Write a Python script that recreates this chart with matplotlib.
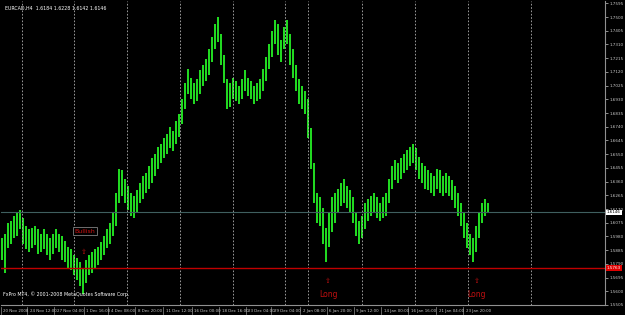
import matplotlib
matplotlib.use("Agg")
import numpy as np
from matplotlib import pyplot as plt
from matplotlib import transforms

# EURCAD H4 bars (high / low), one entry per bar
highs = [
    1.597, 1.600, 1.607, 1.609, 1.612, 1.614, 1.616, 1.611, 1.605, 1.603,
    1.604, 1.605, 1.603, 1.600, 1.603, 1.600, 1.597, 1.600, 1.603, 1.600,
    1.598, 1.595, 1.591, 1.589, 1.585, 1.583, 1.580, 1.576, 1.582, 1.585,
    1.587, 1.589, 1.591, 1.594, 1.598, 1.603, 1.607, 1.614, 1.628, 1.645,
    1.644, 1.638, 1.633, 1.628, 1.626, 1.630, 1.635, 1.640, 1.642, 1.647,
    1.652, 1.655, 1.660, 1.662, 1.666, 1.669, 1.674, 1.671, 1.678, 1.683,
    1.693, 1.704, 1.714, 1.708, 1.704, 1.707, 1.713, 1.717, 1.721, 1.728,
    1.736, 1.745, 1.750, 1.738, 1.724, 1.707, 1.704, 1.708, 1.706, 1.702,
    1.707, 1.713, 1.708, 1.706, 1.702, 1.704, 1.707, 1.714, 1.722, 1.731,
    1.740, 1.748, 1.745, 1.734, 1.743, 1.748, 1.738, 1.728, 1.717, 1.707,
    1.702, 1.699, 1.693, 1.673, 1.649, 1.628, 1.625, 1.618, 1.604, 1.614,
    1.625, 1.628, 1.631, 1.635, 1.638, 1.633, 1.630, 1.625, 1.614, 1.609,
    1.612, 1.621, 1.624, 1.626, 1.628, 1.625, 1.621, 1.625, 1.628, 1.638,
    1.647, 1.651, 1.649, 1.652, 1.655, 1.658, 1.660, 1.662, 1.659, 1.653,
    1.649, 1.647, 1.644, 1.642, 1.640, 1.645, 1.644, 1.640, 1.642, 1.640,
    1.637, 1.633, 1.628, 1.621, 1.614, 1.607, 1.600, 1.597, 1.605, 1.614,
    1.621, 1.624, 1.621,
]
lows = [
    1.582, 1.573, 1.590, 1.593, 1.597, 1.598, 1.603, 1.593, 1.589, 1.587,
    1.590, 1.592, 1.586, 1.587, 1.589, 1.585, 1.582, 1.586, 1.590, 1.587,
    1.582, 1.580, 1.576, 1.575, 1.571, 1.568, 1.564, 1.558, 1.566, 1.571,
    1.573, 1.576, 1.578, 1.582, 1.585, 1.590, 1.593, 1.598, 1.605, 1.621,
    1.626, 1.621, 1.616, 1.612, 1.611, 1.614, 1.621, 1.624, 1.628, 1.631,
    1.635, 1.640, 1.645, 1.649, 1.652, 1.655, 1.659, 1.657, 1.662, 1.667,
    1.676, 1.686, 1.697, 1.693, 1.690, 1.692, 1.697, 1.702, 1.706, 1.710,
    1.719, 1.728, 1.733, 1.717, 1.704, 1.686, 1.688, 1.693, 1.692, 1.690,
    1.693, 1.699, 1.695, 1.693, 1.690, 1.692, 1.693, 1.699, 1.706, 1.714,
    1.722, 1.731, 1.724, 1.719, 1.728, 1.731, 1.717, 1.708, 1.699, 1.690,
    1.686, 1.683, 1.666, 1.645, 1.621, 1.607, 1.605, 1.593, 1.580, 1.591,
    1.601, 1.607, 1.614, 1.619, 1.621, 1.618, 1.614, 1.607, 1.598, 1.593,
    1.597, 1.603, 1.609, 1.612, 1.614, 1.611, 1.609, 1.611, 1.612, 1.621,
    1.631, 1.637, 1.635, 1.638, 1.642, 1.644, 1.647, 1.649, 1.644, 1.638,
    1.635, 1.631, 1.630, 1.628, 1.626, 1.631, 1.628, 1.626, 1.628, 1.626,
    1.623, 1.618, 1.612, 1.605, 1.597, 1.590, 1.585, 1.580, 1.587, 1.597,
    1.607, 1.612, 1.614,
]

price_ticks = [1.7595, 1.7500, 1.7405, 1.7310, 1.7215, 1.7120, 1.7025, 1.6930,
               1.6835, 1.6740, 1.6645, 1.6550, 1.6455, 1.6360, 1.6265, 1.6170,
               1.6075, 1.5980, 1.5885, 1.5790, 1.5695, 1.5600, 1.5505]

time_pos = [0, 9, 18, 27.7, 36, 45, 54.3, 63.7, 73, 81.7, 90.3, 100,
            108.7, 117.7, 127, 136, 145.3, 154.3]
time_labels = ["20 Nov 2008", "24 Nov 12:00", "27 Nov 04:00", "1 Dec 16:00",
               "4 Dec 08:00", "8 Dec 20:00", "11 Dec 12:00", "16 Dec 00:00",
               "18 Dec 16:00", "23 Dec 04:00", "29 Dec 04:00", "2 Jan 08:00",
               "6 Jan 20:00", "9 Jan 12:00", "14 Jan 00:00", "16 Jan 16:00",
               "21 Jan 04:00", "23 Jan 20:00"]

# weekly separators (bar index)
week_lines = [6.7, 24, 41.7, 59.3, 77, 94.3, 102, 120, 137.7, 155.3, 176.3]

bid = 1.6146
support = 1.5763
long_bars = [108.7, 158.3]

fig = plt.figure(figsize=(6.25, 3.15), dpi=100, facecolor="black")
ax = fig.add_axes([1 / 625, 10 / 315, 604 / 625, 304 / 315])
ax.set_facecolor("black")

x = np.arange(len(highs))
ax.vlines(x, lows, highs, color="#22e022", lw=1.4)

for w in week_lines:
    ax.axvline(w, color="#b0b0b0", lw=0.6, ls=(0, (2, 2)))

ax.axhline(bid, color="#3f5f5f", lw=0.8)
ax.axhline(support, color="#c00000", lw=1.0)

ax.set_xlim(-1 / 3, 201)
ax.set_ylim(1.5523, 1.7611)

# price scale on the right
ax.yaxis.tick_right()
ax.set_yticks(price_ticks)
ax.set_yticklabels(["%.4f" % p for p in price_ticks])
ax.tick_params(axis="y", colors="#c8c8c8", labelsize=3.0, length=2, width=0.5, pad=1)
ax.set_xticks([])
for s in ["top", "left"]:
    ax.spines[s].set_visible(False)
for s in ["right", "bottom"]:
    ax.spines[s].set_color("#909090")
    ax.spines[s].set_linewidth(0.8)

# time scale labels
tb = transforms.blended_transform_factory(ax.transData, ax.transAxes)
for p, lab in zip(time_pos, time_labels):
    ax.text(p + 0.3, -0.012, lab, transform=tb, ha="left", va="top",
            fontsize=2.9, color="#c8c8c8", clip_on=False)
    ax.plot([p - 0.5, p - 0.5], [-0.005, -0.03], transform=tb, color="#909090",
            lw=0.5, clip_on=False)

# price boxes
ay = transforms.blended_transform_factory(ax.transAxes, ax.transData)
ax.text(1.003, bid, "%.4f" % bid, transform=ay, ha="left", va="center",
        fontsize=3.0, color="black", clip_on=False,
        bbox=dict(boxstyle="square,pad=0.2", fc="white", ec="none"))
ax.text(1.003, support, "%.4f" % support, transform=ay, ha="left", va="center",
        fontsize=3.0, color="white", clip_on=False,
        bbox=dict(boxstyle="square,pad=0.2", fc="#e00000", ec="none"))

# header / footer
ax.text(0.006, 0.985, "EURCAD,H4  1.6184 1.6228 1.6142 1.6146",
        transform=ax.transAxes, ha="left", va="top", fontsize=3.4, color="white")
ax.text(0.003, 0.025, "FxPro MT4, \u00a9 2001-2008 MetaQuotes Software Corp.",
        transform=ax.transAxes, ha="left", va="bottom", fontsize=3.4, color="white")

# annotations
ax.text(27.7, 1.6017, "Bullish", ha="center", va="center", fontsize=4.5,
        color="#d01010",
        bbox=dict(boxstyle="square,pad=0.2", fc="black", ec="#808080", lw=0.6))
ax.text(27.3, 1.5873, "\u21e7", ha="center", va="center", fontsize=5, color="#c01010")
for b in long_bars:
    ax.text(b, 1.5674, "\u21e7", ha="center", va="center", fontsize=5, color="#c01010")
    ax.text(b, 1.5578, "Long", ha="center", va="center", fontsize=5.5, color="#c01010")

fig.savefig("out.png", dpi=100, facecolor="black")
